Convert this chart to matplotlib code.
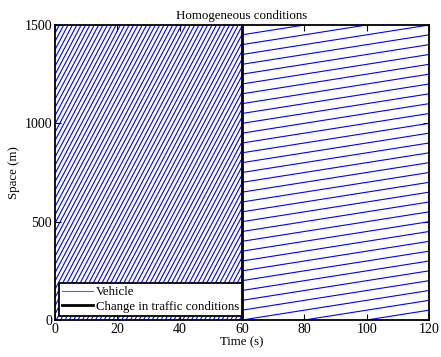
import numpy as np
import matplotlib
matplotlib.use("Agg")
import matplotlib.pyplot as plt

# --------------------------------------------------
# Data
# --------------------------------------------------
t_change = 60.0          # s, time of change in traffic conditions
t_end = 120.0            # s
road_len = 1500.0        # m

speed_before = 30.0      # m/s
headway_before = 1.4     # s
speed_after = 2.5        # m/s
spacing_after = 50.0     # m

plt.rcParams["font.family"] = ["Liberation Serif", "DejaVu Serif"]
plt.rcParams["font.size"] = 10

fig = plt.figure(figsize=(4.41, 3.57), dpi=100)
ax = fig.add_axes([0.1247, 0.1036, 0.8481, 0.8264])

# --------------------------------------------------
# trajectories before the change
# --------------------------------------------------
first = True
t0 = -road_len / speed_before
while t0 < t_change:
    t = np.array([t0, t_change])
    x = speed_before * (t - t0)
    ax.plot(t, x, color="b", lw=0.8, label="Vehicle" if first else None)
    first = False
    t0 += headway_before

# --------------------------------------------------
# trajectories after the change
# --------------------------------------------------
s0 = -speed_after * (t_end - t_change)
while s0 < road_len:
    t = np.array([t_change, t_end])
    x = s0 + speed_after * (t - t_change)
    ax.plot(t, x, color="b", lw=0.8)
    s0 += spacing_after

ax.plot([t_change, t_change], [0, road_len], color="k", lw=2,
        label="Change in traffic conditions")

ax.set_xlim(0, t_end)
ax.set_ylim(0, road_len)
ax.set_xticks([0, 20, 40, 60, 80, 100, 120])
ax.set_yticks([0, 500, 1000, 1500])
ax.tick_params(direction="in", top=True, right=True, length=4, pad=2)
for sp in ax.spines.values():
    sp.set_linewidth(1.3)

ax.set_xlabel("Time (s)", fontsize=9.3, labelpad=0)
ax.set_ylabel("Space (m)", fontsize=9.3, labelpad=3)
ax.set_title("Homogeneous conditions", fontsize=9.3, pad=4)

leg = ax.legend(loc="lower left", bbox_to_anchor=(0.0, 0.0), fancybox=False,
                edgecolor="k", framealpha=1, borderaxespad=0.3,
                handlelength=2.4, handletextpad=0.2, borderpad=0.25,
                labelspacing=0.2, fontsize=9.3)
leg.get_frame().set_linewidth(1.3)
leg.get_lines()[0].set_color("#5a5aff")

fig.savefig("out.png", dpi=100)
